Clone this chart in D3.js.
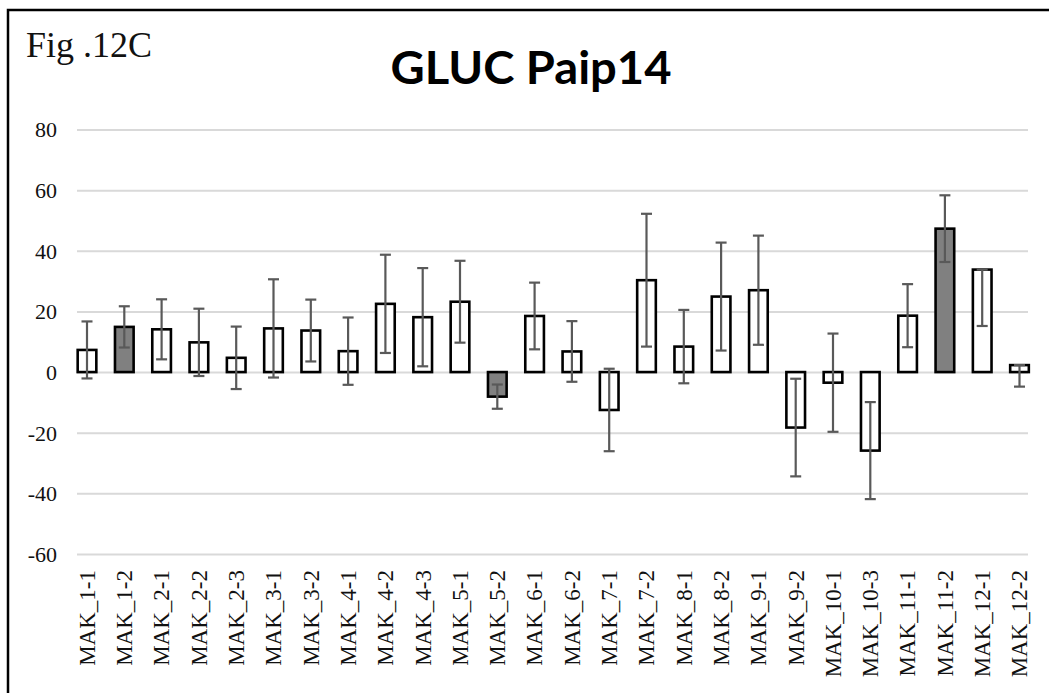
<!DOCTYPE html>
<html>
<head>
<meta charset="utf-8">
<script src="https://cdn.jsdelivr.net/npm/d3@7"></script>
<style>
  html, body { margin: 0; padding: 0; background: #ffffff; }
  svg { display: block; }
</style>
</head>
<body>
<svg id="chart" width="1049" height="693"></svg>
<script>
// ---- data ----
const categories = ["MAK_1-1","MAK_1-2","MAK_2-1","MAK_2-2","MAK_2-3","MAK_3-1","MAK_3-2","MAK_4-1","MAK_4-2","MAK_4-3",
  "MAK_5-1","MAK_5-2","MAK_6-1","MAK_6-2","MAK_7-1","MAK_7-2","MAK_8-1","MAK_8-2","MAK_9-1","MAK_9-2",
  "MAK_10-1","MAK_10-3","MAK_11-1","MAK_11-2","MAK_12-1","MAK_12-2"];
const values  = [7.3, 14.9, 14.1, 9.8, 4.7, 14.4, 13.7, 6.9, 22.5, 18.1,
  23.2, -8.1, 18.5, 6.8, -12.5, 30.3, 8.4, 24.9, 27.0, -18.3,
  -3.5, -25.9, 18.6, 47.3, 33.8, 2.3];
const errUp   = [9.4, 6.8, 9.9, 11.1, 10.3, 16.2, 10.2, 11.1, 16.2, 16.2,
  13.5, 4.0, 11.0, 10.0, 13.6, 21.9, 12.1, 17.8, 18.0, 16.1,
  16.2, 16.0, 10.4, 11.0, 0, 0];
const errDown = [9.4, 6.8, 9.9, 11.1, 10.3, 16.2, 10.2, 11.1, 16.2, 16.2,
  13.5, 4.0, 11.0, 10.0, 13.6, 21.9, 12.1, 17.8, 18.0, 16.1,
  16.2, 16.0, 10.4, 11.0, 18.6, 7.1];
const highlighted = ["MAK_1-2","MAK_5-2","MAK_11-2"];
const yTicks = [-60, -40, -20, 0, 20, 40, 60, 80];
const yTickLabels = ["-60", "-40", "-20", "0", "20", "40", "60", "80"];
const figLabel = "Fig .12C";
const title = "GLUC Paip14";

// ---- drawing ----
const svg = d3.select("#chart");
svg.append("rect").attr("width", 1049).attr("height", 693).attr("fill", "#ffffff");

// frame
svg.append("path")
  .attr("d", "M8,693 V10 H1049")
  .attr("fill", "none").attr("stroke", "#000").attr("stroke-width", 2.5);

const gridX0 = 77, gridX1 = 1028;
const x = d3.scaleBand().domain(categories).range([68.35, 1038.15]).paddingInner(0.5).paddingOuter(0.25);
const y = d3.scaleLinear().domain([-60, 80]).range([554, 129.5]);

// y axis with gridlines
const yAxis = d3.axisLeft(y).tickValues(yTicks).tickSize(-(gridX1 - gridX0)).tickPadding(20)
  .tickFormat((d, i) => yTickLabels[i]);
const gy = svg.append("g").attr("transform", `translate(${gridX0},0)`).call(yAxis);
gy.select(".domain").remove();
gy.selectAll(".tick line").attr("stroke", "#d9d9d9").attr("stroke-width", 2);
gy.selectAll(".tick text")
  .attr("font-family", "'Liberation Serif', 'Times New Roman', serif")
  .attr("font-size", 22).attr("fill", "#111").attr("dy", "0.34em");

// bars
svg.append("g").selectAll("rect").data(categories).join("rect")
  .attr("x", d => x(d))
  .attr("width", x.bandwidth())
  .attr("y", (d, i) => y(Math.max(0, values[i])))
  .attr("height", (d, i) => Math.abs(y(values[i]) - y(0)))
  .attr("fill", d => highlighted.includes(d) ? "#808080" : "#ffffff")
  .attr("stroke", "#000").attr("stroke-width", 2.6);

// error bars
const eg = svg.append("g").attr("stroke", "#595959").attr("stroke-width", 2.2).attr("fill", "none");
const capW = 5.5;
categories.forEach((c, i) => {
  const cx = x(c) + x.bandwidth() / 2;
  const top = y(values[i] + errUp[i]);
  const bot = y(values[i] - errDown[i]);
  eg.append("line").attr("x1", cx).attr("x2", cx).attr("y1", top).attr("y2", bot);
  eg.append("line").attr("x1", cx - capW).attr("x2", cx + capW).attr("y1", top).attr("y2", top);
  eg.append("line").attr("x1", cx - capW).attr("x2", cx + capW).attr("y1", bot).attr("y2", bot);
});

// x labels
svg.append("g").selectAll("text").data(categories).join("text")
  .attr("transform", d => `translate(${x(d) + x.bandwidth() / 2},570) rotate(-90)`)
  .attr("text-anchor", "end").attr("dy", "0.34em")
  .attr("font-family", "'Liberation Serif', 'Times New Roman', serif")
  .attr("font-size", 23).attr("fill", "#111")
  .text(d => d);

// fig label
svg.append("text").attr("x", 26).attr("y", 57)
  .attr("font-family", "'Liberation Serif', 'Times New Roman', serif")
  .attr("font-size", 36).attr("fill", "#111")
  .text(figLabel);

// title
svg.append("text").attr("x", 531).attr("y", 84).attr("text-anchor", "middle")
  .attr("font-family", "Lato, 'Open Sans', sans-serif").attr("font-weight", "bold")
  .attr("font-size", 46).attr("fill", "#000")
  .attr("textLength", 281).attr("lengthAdjust", "spacingAndGlyphs")
  .text(title);
</script>
</body>
</html>
